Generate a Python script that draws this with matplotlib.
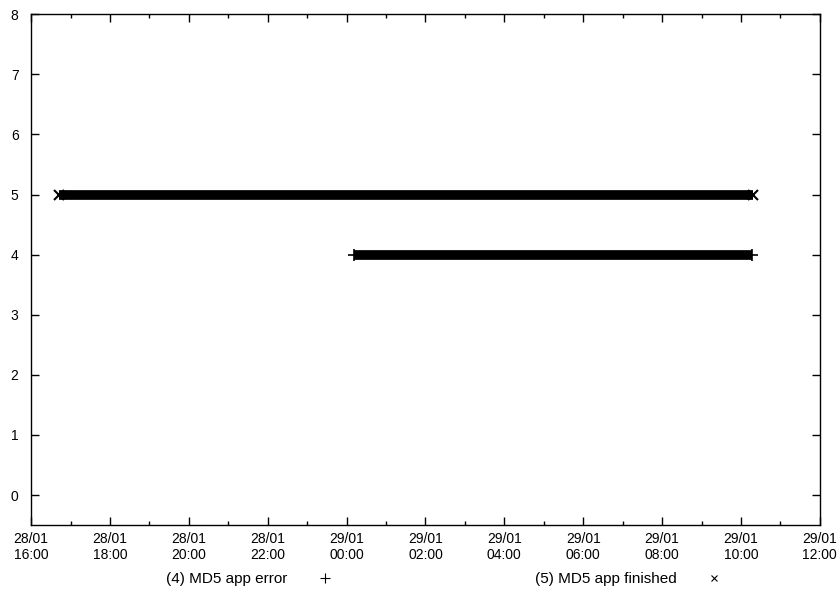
import pandas as pd
import matplotlib
matplotlib.use("Agg")
import matplotlib.pyplot as plt
import matplotlib.dates as mdates

plt.rcParams['font.family'] = ['Liberation Sans', 'DejaVu Sans']

# ---------------------------------
# Data
# ---------------------------------
error_start = pd.Timestamp("2009-01-29 00:12")
error_end = pd.Timestamp("2009-01-29 10:17")
error_level = 4

finished_start = pd.Timestamp("2009-01-28 16:43")
finished_end = pd.Timestamp("2009-01-29 10:19")
finished_level = 5

x_min = pd.Timestamp("2009-01-28 16:00")
x_max = pd.Timestamp("2009-01-29 12:00")
y_ticks = [0, 1, 2, 3, 4, 5, 6, 7, 8]

# ---------------------------------
# Plot
# ---------------------------------
fig = plt.figure(figsize=(8.4, 5.94), dpi=100)
ax = fig.add_axes([0.037, 0.116, 0.939, 0.860])

# dense markers merge into a thick bar
ax.plot([finished_start, finished_end], [finished_level, finished_level],
        color='black', linewidth=7, solid_capstyle='butt')
ax.plot([finished_start, finished_end], [finished_level, finished_level],
        linestyle='none', marker='x', color='black', markersize=7, mew=1.5)
ax.plot([error_start, error_end], [error_level, error_level],
        color='black', linewidth=7, solid_capstyle='butt')
ax.plot([error_start, error_end], [error_level, error_level],
        linestyle='none', marker='+', color='black', markersize=8, mew=1.2)

ax.set_xlim(x_min, x_max)
ax.set_ylim(-0.5, 8)
ax.set_yticks(y_ticks)

ax.xaxis.set_major_locator(mdates.HourLocator(byhour=range(0, 24, 2)))
ax.xaxis.set_minor_locator(mdates.HourLocator())
ax.xaxis.set_major_formatter(mdates.DateFormatter("%d/%m\n%H:%M"))

ax.tick_params(which='both', direction='in', top=True, right=True,
               labelsize=10, width=1)
ax.tick_params(which='major', length=6)
ax.tick_params(which='minor', length=3)
ax.tick_params(axis='x', pad=5)
ax.tick_params(axis='y', pad=9)
for s in ax.spines.values():
    s.set_linewidth(1)

# legend below the plot, gnuplot style (label then symbol)
h_err, = ax.plot([], [], linestyle='none', marker='+', color='black',
                 markersize=7, mew=0.8, label="(4) MD5 app error")
h_fin, = ax.plot([], [], linestyle='none', marker='x', color='black',
                 markersize=5, mew=0.8, label="(5) MD5 app finished")
fig.legend(handles=[h_err, h_fin], loc='lower center', ncol=2,
           bbox_to_anchor=(0.533, -0.01), frameon=False, markerfirst=False,
           fontsize=11, columnspacing=12.7, handletextpad=1.5,
           handlelength=2)

fig.savefig("out.png", dpi=100)
